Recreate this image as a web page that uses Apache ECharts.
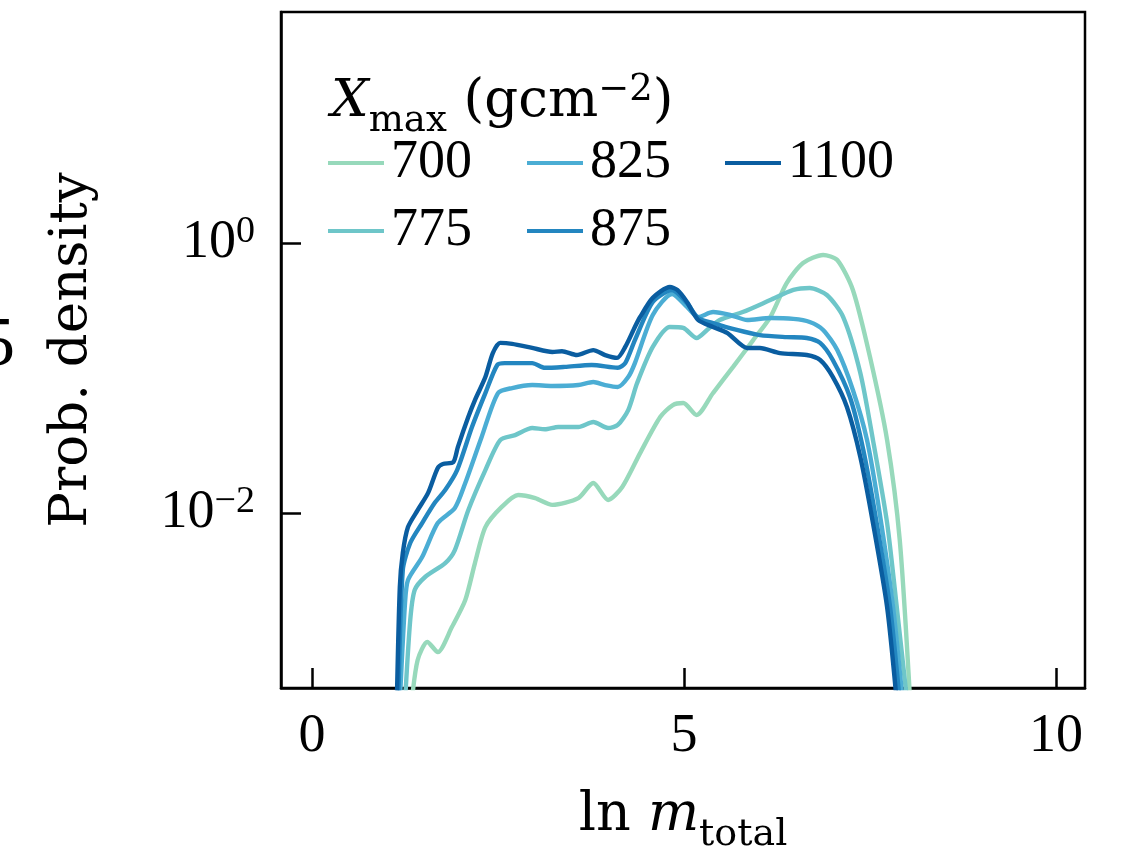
<!DOCTYPE html>
<html>
<head>
<meta charset="utf-8">
<script src="https://cdn.jsdelivr.net/npm/echarts@6/dist/echarts.min.js"></script>
<style>html,body{margin:0;padding:0;background:#fff;overflow:hidden;}#chart{width:1122px;height:858px;}</style>
</head>
<body>
<div id="chart"></div>
<script>
// ---- data (x = ln m_total, y = probability density) ----
const seriesNames = ['700', '775', '825', '875', '1100'];
const seriesColors = ['#97d9bb', '#6ec6c9', '#4badd4', '#2386c0', '#0a5da0'];
const xTicks = [0, 5, 10];
const yTicks = [0.01, 1];

const d700 = [[1.34,4e-4],[1.42,8.15e-4],[1.55,1.11e-3],[1.69,9.34e-4],[1.88,1.43e-3],[2.06,2.27e-3],[2.19,4.26e-3],[2.33,7.87e-3],[2.55,1.11e-2],[2.77,1.36e-2],[3.00,1.29e-2],[3.23,1.15e-2],[3.58,1.29e-2],[3.78,1.67e-2],[3.98,1.25e-2],[4.17,1.56e-2],[4.41,2.78e-2],[4.68,5.14e-2],[4.85,6.31e-2],[4.99,6.53e-2],[5.17,5.32e-2],[5.39,7.74e-2],[5.66,0.121],[5.93,0.191],[6.16,0.283],[6.38,0.505],[6.60,0.711],[6.87,0.815],[7.06,0.748],[7.27,0.449],[7.50,0.143],[7.73,0.0347],[7.90,6.31e-3],[8.04,4e-4]];
const d775 = [[1.25,4e-4],[1.32,1.61e-3],[1.38,2.69e-3],[1.52,3.36e-3],[1.79,4.26e-3],[1.92,5.32e-3],[2.10,1.05e-2],[2.33,2.08e-2],[2.53,3.47e-2],[2.73,3.78e-2],[2.96,4.26e-2],[3.13,4.17e-2],[3.31,4.34e-2],[3.58,4.34e-2],[3.78,4.72e-2],[3.98,4.26e-2],[4.11,4.49e-2],[4.25,5.79e-2],[4.37,9.18e-2],[4.58,0.170],[4.81,0.239],[4.99,0.235],[5.17,0.198],[5.31,0.227],[5.48,0.269],[5.79,0.308],[6.16,0.378],[6.47,0.449],[6.69,0.464],[6.92,0.412],[7.14,0.283],[7.37,0.109],[7.54,0.0347],[7.73,8.43e-3],[7.86,2.01e-3],[8.00,4e-4]];
const d825 = [[1.18,4e-4],[1.25,2.15e-3],[1.29,3.19e-3],[1.48,4.72e-3],[1.69,8.43e-3],[1.92,1.09e-2],[2.06,1.67e-2],[2.28,3.66e-2],[2.50,7.74e-2],[2.69,8.43e-2],[2.96,8.87e-2],[3.23,8.73e-2],[3.58,8.87e-2],[3.78,9.34e-2],[3.94,8.87e-2],[4.11,8.58e-2],[4.25,0.1017],[4.34,0.129],[4.58,0.293],[4.84,0.419],[5.04,0.336],[5.19,0.283],[5.39,0.308],[5.62,0.293],[5.85,0.269],[6.16,0.278],[6.47,0.274],[6.69,0.260],[6.87,0.227],[7.06,0.161],[7.27,0.0815],[7.46,0.0347],[7.63,0.01],[7.81,2.01e-3],[7.94,4e-4]];
const d875 = [[1.16,4e-4],[1.22,3.78e-3],[1.32,6.0e-3],[1.48,8.43e-3],[1.65,1.19e-2],[1.79,1.48e-2],[1.95,2.08e-2],[2.15,4.34e-2],[2.33,7.74e-2],[2.49,0.125],[2.59,0.129],[2.96,0.129],[3.13,0.119],[3.40,0.121],[3.76,0.125],[4.11,0.119],[4.21,0.129],[4.34,0.191],[4.58,0.366],[4.84,0.449],[5.04,0.359],[5.19,0.278],[5.39,0.255],[5.71,0.227],[6.02,0.208],[6.38,0.201],[6.65,0.198],[6.83,0.182],[7.00,0.136],[7.23,0.0723],[7.41,0.0293],[7.59,8.43e-3],[7.77,2.01e-3],[7.90,4e-4]];
const d1100 = [[1.14,4e-4],[1.18,2.83e-3],[1.22,5.05e-3],[1.29,7.87e-3],[1.42,1.05e-2],[1.56,1.41e-2],[1.69,2.16e-2],[1.76,2.31e-2],[1.90,2.39e-2],[1.96,3.08e-2],[2.10,5.14e-2],[2.19,6.87e-2],[2.33,0.1017],[2.43,0.153],[2.53,0.182],[2.69,0.179],[2.96,0.167],[3.23,0.156],[3.36,0.158],[3.56,0.148],[3.78,0.161],[3.94,0.148],[4.10,0.141],[4.21,0.170],[4.34,0.239],[4.41,0.283],[4.58,0.392],[4.81,0.472],[4.91,0.449],[5.04,0.366],[5.19,0.269],[5.39,0.239],[5.58,0.216],[5.85,0.167],[6.02,0.167],[6.29,0.153],[6.65,0.148],[6.83,0.136],[7.00,0.102],[7.19,0.0610],[7.37,0.0260],[7.54,8.43e-3],[7.73,2.01e-3],[7.86,4e-4]];
const seriesData = [d700, d775, d825, d875, d1100];

const FONT = 'Liberation Serif';
const TFONT = 'DejaVu Serif';
const chart = echarts.init(document.getElementById('chart'), null, {renderer: 'canvas'});

const legendText = {fontFamily: FONT, fontSize: 54, fontWeight: 'normal', color: '#000', lineHeight: 54, padding: [0, 0, 0, 2]};
function mkLegend(left, names) {
  return {
    orient: 'vertical', left: left, top: 131, itemWidth: 56, itemHeight: 4, itemGap: 14,
    icon: 'rect', selectedMode: false, textStyle: legendText, data: names
  };
}

const option = {
  animation: false,
  backgroundColor: '#fff',
  title: {
    text: '{i|X}{sub|max}{n| (gcm}{sup|−2}{n|)}',
    left: 326, top: 67,
    textStyle: {
      fontWeight: 'normal',
      rich: {
        i: {fontFamily: TFONT, fontStyle: 'italic', fontWeight: 'normal', fontSize: 53, color: '#000', lineHeight: 60},
        n: {fontFamily: TFONT, fontWeight: 'normal', fontSize: 53, color: '#000', lineHeight: 60},
        sub: {fontFamily: TFONT, fontWeight: 'normal', fontSize: 37, color: '#000', lineHeight: 60, verticalAlign: 'bottom', padding: [0, 0, -8, 0]},
        sup: {fontFamily: TFONT, fontWeight: 'normal', fontSize: 37, color: '#000', lineHeight: 36, verticalAlign: 'top'}
      }
    }
  },
  legend: [mkLegend(323, ['700', '775']), mkLegend(522, ['825', '875']), mkLegend(720, ['1100'])],
  grid: {left: 281, right: 37, top: 12, bottom: 170, show: true, borderColor: '#000', borderWidth: 2.5, containLabel: false, outerBoundsMode: 'none'},
  xAxis: {
    type: 'value', min: -0.417, max: 10.39,
    name: '{n|ln }{i|m}{sub|total}', nameLocation: 'middle', nameGap: 98,
    nameTextStyle: {
      rich: {
        n: {fontFamily: TFONT, fontSize: 54, color: '#000', lineHeight: 60},
        i: {fontFamily: TFONT, fontStyle: 'italic', fontSize: 54, color: '#000', lineHeight: 60},
        sub: {fontFamily: TFONT, fontSize: 38, color: '#000', lineHeight: 60, verticalAlign: 'bottom', padding: [0, 0, -8, 0]}
      }
    },
    axisLine: {show: true, onZero: false, lineStyle: {color: '#000', width: 2.5}},
    axisTick: {show: true, inside: true, length: 20, lineStyle: {color: '#000', width: 2.5}, customValues: xTicks},
    axisLabel: {show: true, customValues: xTicks, margin: 22, fontFamily: FONT, fontSize: 54, color: '#000'},
    splitLine: {show: false}
  },
  yAxis: {
    type: 'log', min: 5.06e-4, max: 51.4, logBase: 10,
    name: 'Prob. density', nameLocation: 'middle', nameGap: 182,
    nameTextStyle: {fontFamily: TFONT, fontSize: 53, color: '#000'},
    axisLine: {show: true, onZero: false, lineStyle: {color: '#000', width: 2.5}},
    axisTick: {show: true, inside: true, length: 20, lineStyle: {color: '#000', width: 2.5}, customValues: yTicks},
    axisLabel: {
      show: true, customValues: yTicks, margin: 26,
      formatter: function (v) { return v >= 0.5 ? '{b|10}{s|0}' : '{b|10}{s|−2}'; },
      rich: {
        b: {fontFamily: FONT, fontSize: 54, color: '#000', lineHeight: 60},
        s: {fontFamily: FONT, fontSize: 38, color: '#000', lineHeight: 38, verticalAlign: 'top'}
      }
    },
    splitLine: {show: false}
  },
  graphic: [{
    type: 'text', left: -20, top: 312,
    style: {text: '5', font: '70px "Liberation Serif"', fill: '#000'}
  }],
  series: seriesNames.map(function (n, i) {
    return {
      name: n, type: 'line', data: seriesData[i], showSymbol: false, smooth: 0.25, clip: true,
      itemStyle: {color: seriesColors[i]},
      lineStyle: {color: seriesColors[i], width: 4.4}
    };
  })
};
chart.setOption(option);
</script>
</body>
</html>
